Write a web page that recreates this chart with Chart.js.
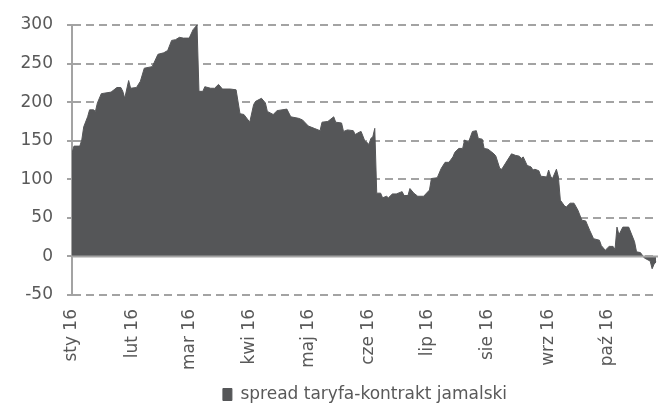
<!DOCTYPE html>
<html>
<head>
<meta charset="utf-8">
<script src="https://cdn.jsdelivr.net/npm/chart.js@4/dist/chart.umd.min.js"></script>
<style>
  html, body { margin: 0; padding: 0; background: #ffffff; }
  #wrap { width: 667px; height: 405px; position: relative; }
</style>
</head>
<body>
<div id="wrap"><canvas id="c"></canvas></div>
<script>
// Day-of-year (2016, 0 = 1 Jan) for each sampled point
const days = [0,1,4,5,6,8,9,11,12,13,15,20,21,23,25,26,27,29,30,33,35,37,41,42,44,47,49,51,53,55,57,60,62,64,65,67,68,71,73,75,77,81,84,86,88,91,93,94,97,99,100,103,105,110,112,116,118,121,124,127,128,131,134,135,138,139,141,144,145,147,148,150,151,152,153,154,155,156,158,159,161,162,164,166,169,170,172,173,175,177,180,183,184,187,189,191,193,195,196,198,200,201,203,205,207,208,210,211,213,216,217,219,220,222,225,227,229,230,231,233,235,236,237,239,240,243,244,245,246,248,249,250,252,253,255,257,259,261,263,265,267,270,271,273,275,277,278,279,280,282,285,288,289,291,293,296,297,298,299];
// spread taryfa-kontrakt jamalski
const spread = [134,143,143,151,168,181,190,190,188,199,211,213,215,219,219,214,205,228,218,219,227,244,246,251,262,264,267,280,281,284,283,283,294,300,214,214,220,218,218,223,217,217,216,185,184,174,197,201,205,199,188,184,189,191,181,179,177,169,166,163,174,175,181,174,173,162,164,163,158,161,162,149,148,145,153,155,166,82,82,76,78,76,81,81,84,79,79,88,82,78,78,86,101,102,114,122,122,129,135,140,140,151,148,162,163,153,152,140,139,133,130,114,113,121,133,131,130,127,129,118,116,112,113,111,104,103,112,104,101,113,103,73,66,64,69,69,60,47,46,34,23,21,14,8,13,13,9,38,28,38,38,19,6,5,-2,-6,-16,-10,-7];
const monthStarts = [0,31,60,91,121,152,182,213,244,274];
const monthLabels = ['sty 16','lut 16','mar 16','kwi 16','maj 16','cze 16','lip 16','sie 16','wrz 16','paź 16'];
const seriesName = 'spread taryfa-kontrakt jamalski';

const FONT = { family: '"DejaVu Sans", Verdana, sans-serif', size: 17 };
const TXT = '#595959';
const GRID = '#a3a3a3';
const AREA = '#555658';

const zeroLine = {
  id: 'zeroLine',
  afterDatasetsDraw(chart) {
    const { ctx, chartArea, scales } = chart;
    const y = scales.y.getPixelForValue(0);
    ctx.save();
    ctx.setLineDash([]);
    ctx.strokeStyle = GRID;
    ctx.lineWidth = 2;
    ctx.beginPath();
    ctx.moveTo(chartArea.left, y);
    ctx.lineTo(chartArea.right, y);
    ctx.stroke();
    ctx.restore();
  }
};

new Chart(document.getElementById('c'), {
  type: 'line',
  data: {
    datasets: [{
      label: seriesName,
      data: days.map((d, i) => ({ x: d, y: spread[i] })),
      fill: 'origin',
      backgroundColor: AREA,
      borderColor: AREA,
      borderWidth: 1,
      pointRadius: 0,
      tension: 0
    }]
  },
  options: {
    responsive: true,
    maintainAspectRatio: false,
    animation: false,
    layout: { padding: { left: 0, top: 25, right: 9, bottom: 0 } },
    plugins: {
      tooltip: { enabled: false },
      legend: {
        position: 'bottom',
        fullSize: false,
        maxHeight: 30,
        labels: {
          color: TXT,
          font: FONT,
          boxWidth: 9,
          boxHeight: 12,
          padding: 11
        }
      }
    },
    scales: {
      x: {
        type: 'linear',
        min: 0,
        max: 300,
        grid: { display: false, drawTicks: false },
        border: { display: false },
        afterBuildTicks(scale) { scale.ticks = monthStarts.map(v => ({ value: v })); },
        afterFit(scale) { scale.height = 80; },
        ticks: {
          autoSkip: false,
          minRotation: 90,
          maxRotation: 90,
          padding: 14,
          color: TXT,
          font: FONT,
          callback: (v) => monthLabels[monthStarts.indexOf(v)]
        }
      },
      y: {
        min: -50,
        max: 300,
        afterFit(scale) { scale.width = 72; },
        grid: {
          display: true,
          drawOnChartArea: true,
          color: GRID,
          lineWidth: 2,
          tickColor: GRID,
          tickLength: 5,
          tickWidth: 2
        },
        border: { display: true, color: GRID, width: 2, dash: [8, 5] },
        ticks: {
          stepSize: 50,
          padding: 14,
          color: TXT,
          font: FONT
        }
      }
    }
  },
  plugins: [zeroLine]
});
</script>
</body>
</html>
